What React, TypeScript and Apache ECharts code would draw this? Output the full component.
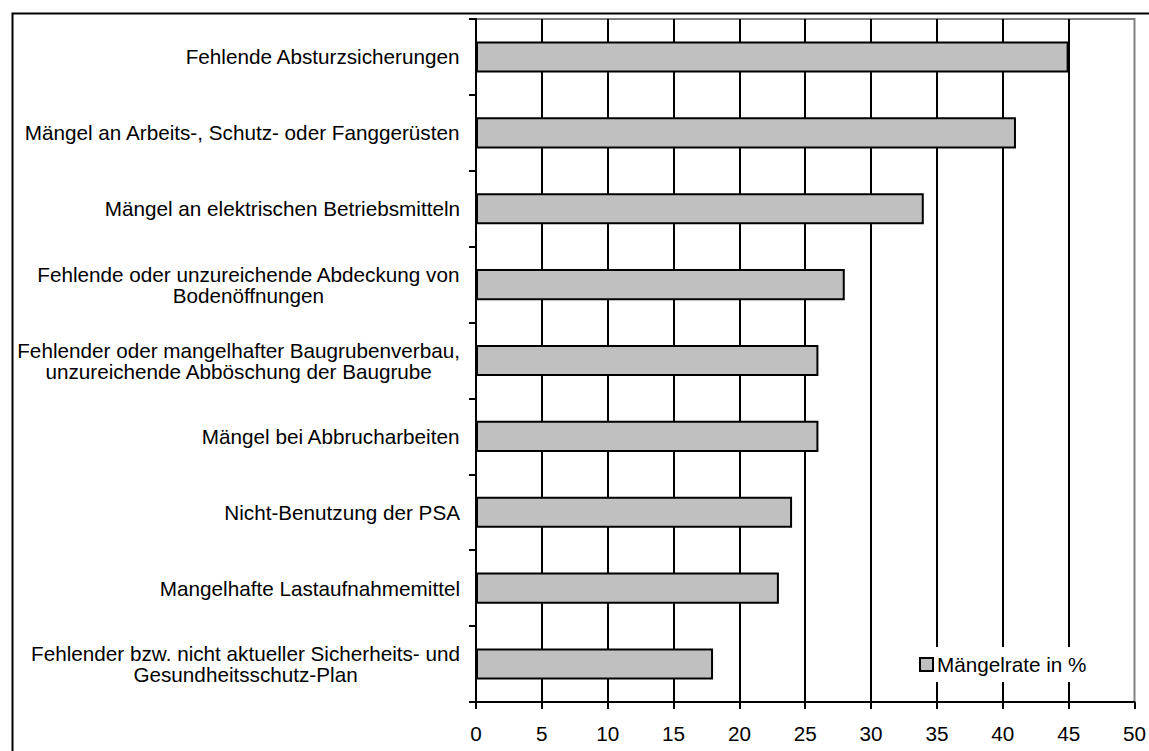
import React, { useEffect, useRef } from "react";
import * as echarts from "echarts";

const categories: string[] = [
  "Fehlende Absturzsicherungen",
  "Mängel an Arbeits-, Schutz- oder Fanggerüsten",
  "Mängel an elektrischen Betriebsmitteln",
  "Fehlende oder unzureichende Abdeckung von\nBodenöffnungen",
  "Fehlender oder mangelhafter Baugrubenverbau,\nunzureichende Abböschung der Baugrube",
  "Mängel bei Abbrucharbeiten",
  "Nicht-Benutzung der PSA",
  "Mangelhafte Lastaufnahmemittel",
  "Fehlender bzw. nicht aktueller Sicherheits- und\nGesundheitsschutz-Plan",
];

const maengelrate: number[] = [45, 41, 34, 28, 26, 26, 24, 23, 18];

const seriesName = "Mängelrate in %";
const xMin = 0;
const xMax = 50;
const xStep = 5;

const FONT = "'Liberation Sans', Arial, sans-serif";
const FS = 20.7;

export default function App() {
  const ref = useRef<HTMLDivElement>(null);

  useEffect(() => {
    if (!ref.current) return;
    const chart = echarts.init(ref.current, undefined, { renderer: "svg" });
    chart.setOption({
      animation: false,
      backgroundColor: "#ffffff",
      textStyle: { fontFamily: FONT, color: "#000" },
      grid: {
        left: 476,
        right: 12,
        top: 19,
        bottom: 49,
        show: true,
        borderColor: "#808080",
        borderWidth: 2,
        backgroundColor: "transparent",
      },
      xAxis: {
        type: "value",
        min: xMin,
        max: xMax,
        interval: xStep,
        axisLine: { show: true, lineStyle: { color: "#000", width: 2 } },
        axisTick: { show: true, inside: false, length: 7, lineStyle: { color: "#000", width: 2 } },
        axisLabel: { fontFamily: FONT, fontSize: FS, color: "#000", margin: 21 },
        splitLine: {
          show: true,
          showMinLine: false,
          showMaxLine: false,
          lineStyle: { color: "#000", width: 2 },
        },
      },
      yAxis: {
        type: "category",
        data: categories,
        inverse: true,
        axisLine: { show: true, lineStyle: { color: "#000", width: 2 } },
        axisTick: {
          show: true,
          inside: false,
          length: 7,
          interval: 0,
          alignWithLabel: false,
          lineStyle: { color: "#000", width: 2 },
        },
        axisLabel: {
          interval: 0,
          margin: 16,
          align: "right",
          fontFamily: FONT,
          fontSize: FS,
          lineHeight: 21,
          color: "#000",
          formatter: (v: string) =>
            v
              .split("\n")
              .map((l) => `{c|${l}}`)
              .join("\n"),
          rich: {
            c: {
              align: "center",
              fontFamily: FONT,
              fontSize: FS,
              lineHeight: 21,
              color: "#000",
            },
          },
        },
        splitLine: { show: false },
      },
      legend: {
        show: true,
        left: 914,
        top: 647,
        orient: "horizontal",
        padding: [7, 6, 7, 5],
        backgroundColor: "#ffffff",
        icon: "rect",
        itemWidth: 13,
        itemHeight: 13,
        itemGap: 4,
        itemStyle: { color: "#c0c0c0", borderColor: "#000", borderWidth: 2 },
        textStyle: { fontFamily: FONT, fontSize: FS, color: "#000", padding: [0, 0, 0, -1] },
        data: [seriesName],
        z: 10,
      },
      graphic: [
        {
          type: "rect",
          left: 10,
          top: 11,
          shape: { x: 0, y: 0, width: 1160, height: 800 },
          style: { fill: "none", stroke: "#000", lineWidth: 2 },
          silent: true,
          z: 100,
        },
      ],
      series: [
        {
          name: seriesName,
          type: "bar",
          data: maengelrate,
          barWidth: "41%",
          itemStyle: { color: "#c0c0c0", borderColor: "#000", borderWidth: 2 },
          z: 3,
        },
      ],
    });
    return () => chart.dispose();
  }, []);

  return (
    <div
      ref={ref}
      style={{ position: "fixed", left: 0, top: 0, width: 1149, height: 751 }}
    />
  );
}
